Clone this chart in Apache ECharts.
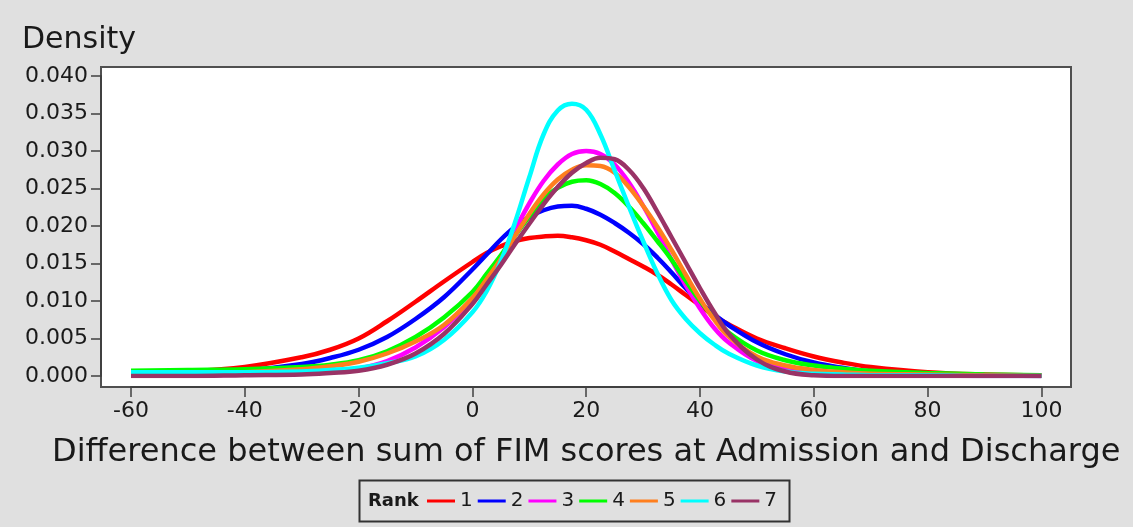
<!DOCTYPE html>
<html>
<head>
<meta charset="utf-8">
<script src="https://cdn.jsdelivr.net/npm/echarts@6/dist/echarts.min.js"></script>
<style>
html,body{margin:0;padding:0;background:#e0e0e0;}
#chart{width:1133px;height:527px;}
</style>
</head>
<body>
<div id="chart"></div>
<script>
// ---- data ----
const xValues = [-60,-50,-40,-30,-25,-20,-15,-10,-5,0,2.5,5,7.5,10,12.5,15,17.5,20,22.5,25,27.5,30,32.5,35,37.5,40,42.5,45,50,55,60,65,70,80,90,100];
const rank1 = [.0004,.0006,.0012,.0025,.0035,.0050,.0073,.0099,.0126,.0152,.0164,.0173,.0180,.0184,.0186,.0187,.0185,.0181,.0175,.0166,.0156,.0146,.0135,.0122,.0108,.0094,.0080,.0069,.0050,.0037,.0026,.0018,.0012,.0005,.0002,.0001];
const rank2 = [.0002,.0003,.0007,.0016,.0024,.0035,.0052,.0076,.0105,.0142,.0162,.0182,.0199,.0212,.0221,.0226,.0227,.0223,.0215,.0204,.0191,.0176,.0158,.0138,.0117,.0098,.0082,.0068,.0045,.0029,.0018,.0011,.0006,.0002,.0001,.0000];
const rank3 = [.0001,.0001,.0002,.0004,.0006,.0010,.0020,.0038,.0065,.0102,.0128,.0158,.0195,.0230,.0260,.0282,.0296,.0300,.0296,.0282,.0258,.0227,.0192,.0155,.0121,.0090,.0064,.0045,.0020,.0010,.0005,.0003,.0002,.0001,.0000,.0000];
const rank4 = [.0007,.0008,.0009,.0012,.0015,.0021,.0033,.0052,.0078,.0112,.0136,.0161,.0187,.0213,.0236,.0251,.0259,.0261,.0256,.0244,.0226,.0204,.0180,.0155,.0127,.0100,.0077,.0058,.0034,.0021,.0014,.0010,.0007,.0004,.0002,.0001];
const rank5 = [.0002,.0003,.0005,.0009,.0013,.0019,.0030,.0046,.0068,.0104,.0129,.0156,.0187,.0216,.0242,.0262,.0275,.0281,.0280,.0271,.0252,.0227,.0199,.0168,.0135,.0103,.0075,.0053,.0026,.0014,.0008,.0005,.0003,.0002,.0001,.0000];
const rank6 = [.0005,.0005,.0005,.0006,.0008,.0011,.0017,.0026,.0048,.0085,.0113,.0153,.0205,.0265,.0322,.0354,.0363,.0355,.0322,.0274,.0226,.0180,.0137,.0101,.0076,.0057,.0042,.0030,.0014,.0006,.0003,.0002,.0001,.0001,.0000,.0000];
const rank7 = [.0000,.0000,.0001,.0002,.0004,.0007,.0015,.0030,.0056,.0096,.0122,.0148,.0176,.0203,.0229,.0252,.0271,.0284,.0291,.0289,.0275,.0251,.0219,.0185,.0151,.0117,.0085,.0057,.0022,.0006,.0001,.0000,.0000,.0000,.0000,.0000];
const seriesNames = ['1','2','3','4','5','6','7'];
const seriesValues = [rank1, rank2, rank3, rank4, rank5, rank6, rank7];
const xTicks = {min: -60, max: 100, step: 20};
const yTicks = {min: 0, max: 0.04, step: 0.005};

// ---- styles ----
const colors = ['#ff0000','#0000ff','#ff00ff','#00ff00','#ff7f1e','#00ffff','#993366'];
const FONT = 'DejaVu Sans';
const axisColor = '#404040';
const textColor = '#1a1a1a';

const chart = echarts.init(document.getElementById('chart'), null, {renderer: 'canvas'});
chart.setOption({
  animation: false,
  backgroundColor: '#e0e0e0',
  textStyle: {fontFamily: FONT},
  title: {
    text: 'Density', left: 22, top: 25, padding: 0,
    textStyle: {fontFamily: FONT, fontSize: 30, fontWeight: 'normal', color: textColor}
  },
  grid: {left: 131, right: 91.6, top: 76, bottom: 151, containLabel: false},
  xAxis: {
    type: 'value', min: xTicks.min, max: xTicks.max, interval: xTicks.step,
    offset: 11,
    name: 'Difference between sum of FIM scores at Admission and Discharge',
    nameLocation: 'middle', nameGap: 50,
    nameTextStyle: {fontFamily: FONT, fontSize: 32, color: textColor},
    axisLine: {show: true, onZero: false, lineStyle: {color: axisColor, width: 2}},
    axisTick: {show: true, length: 10, lineStyle: {color: axisColor, width: 1.5}},
    axisLabel: {fontFamily: FONT, fontSize: 22, color: textColor, margin: 13},
    splitLine: {show: false}
  },
  yAxis: {
    type: 'value', min: yTicks.min, max: yTicks.max, interval: yTicks.step,
    offset: 30,
    axisLine: {show: true, onZero: false, lineStyle: {color: axisColor, width: 2}},
    axisTick: {show: true, length: 10, lineStyle: {color: axisColor, width: 1.5}},
    axisLabel: {fontFamily: FONT, fontSize: 22, color: textColor, margin: 13,
      formatter: v => v.toFixed(3)},
    splitLine: {show: false}
  },
  legend: {
    left: 427, top: 491, padding: 0,
    icon: 'rect', itemWidth: 28, itemHeight: 3, itemGap: 5,
    textStyle: {fontFamily: FONT, fontSize: 20, color: textColor, padding: [0,0,0,0]},
    data: seriesNames
  },
  graphic: [
    {type: 'rect', z: -10, shape: {x: 101, y: 67, width: 970, height: 320},
     style: {fill: '#ffffff', stroke: '#505050', lineWidth: 2}},
    {type: 'rect', z: -10, shape: {x: 359.5, y: 480.5, width: 430, height: 41},
     style: {fill: 'none', stroke: '#333333', lineWidth: 2}},
    {type: 'text', x: 368, y: 501,
     style: {text: 'Rank', font: 'bold 18px "DejaVu Sans"', fill: textColor,
       textVerticalAlign: 'middle', verticalAlign: 'middle'}}
  ],
  series: seriesNames.map((n, i) => ({
    name: n, type: 'line', smooth: 0.4, showSymbol: false, symbol: 'none',
    color: colors[i],
    lineStyle: {color: colors[i], width: 4.5},
    itemStyle: {color: colors[i]},
    emphasis: {disabled: true},
    data: xValues.map((x, k) => [x, seriesValues[i][k]])
  }))
});
</script>
</body>
</html>
